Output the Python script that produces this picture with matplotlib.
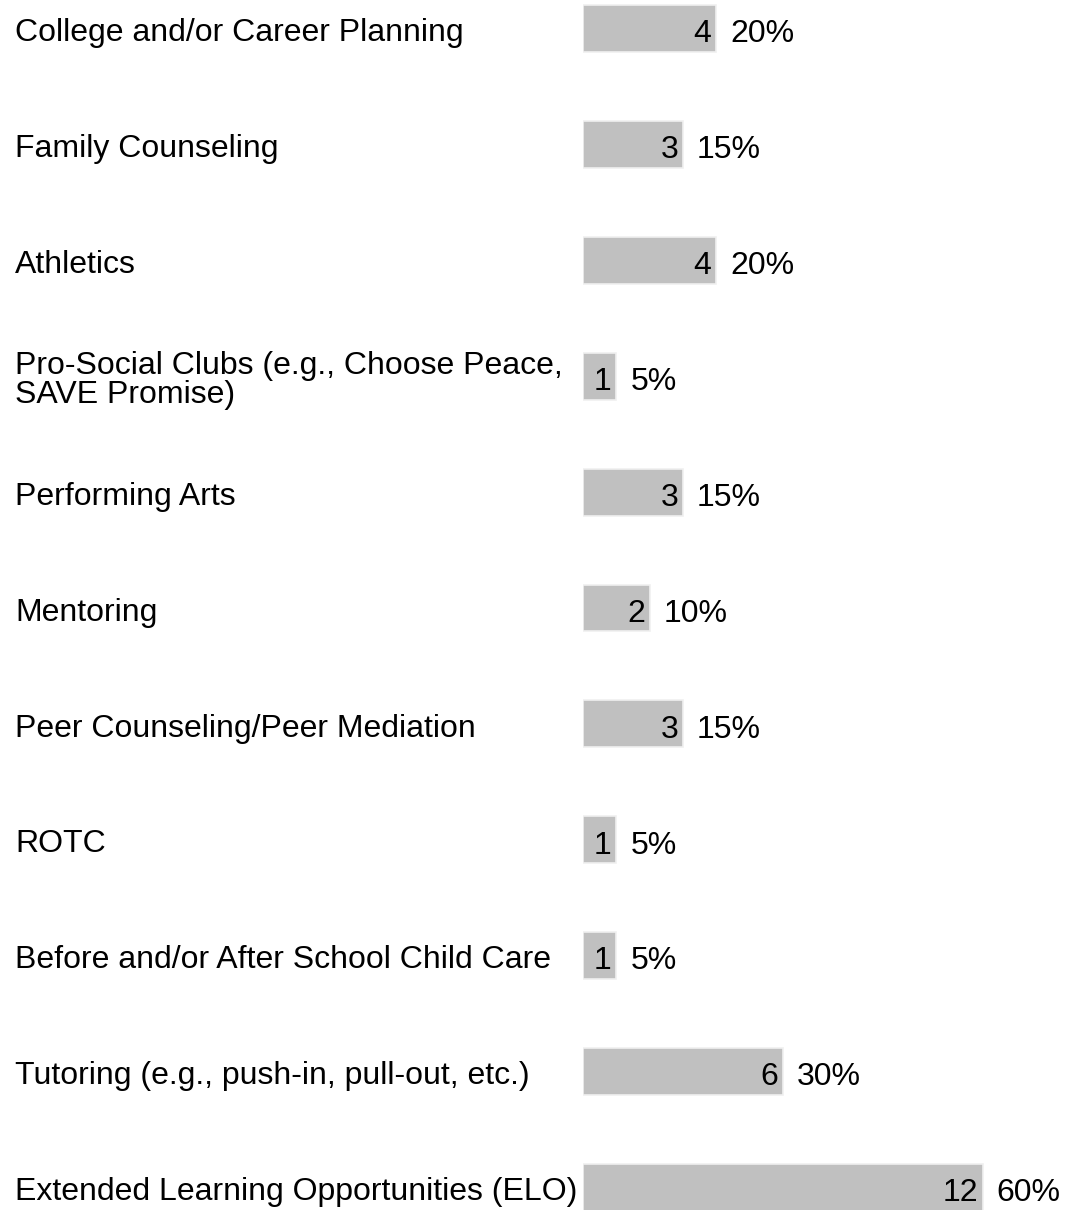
import matplotlib.pyplot as plt
from matplotlib.transforms import blended_transform_factory

# categories and counts
categories = [
    'College and/or Career Planning',
    'Family Counseling',
    'Athletics',
    'Pro-Social Clubs (e.g., Choose Peace,\nSAVE Promise)',
    'Performing Arts',
    'Mentoring',
    'Peer Counseling/Peer Mediation',
    'ROTC',
    'Before and/or After School Child Care',
    'Tutoring (e.g., push-in, pull-out, etc.)',
    'Extended Learning Opportunities (ELO)',
]
counts = [4, 3, 4, 1, 3, 2, 3, 1, 1, 6, 12]
percents = ['20%', '15%', '20%', '5%', '15%', '10%', '15%', '5%', '5%', '30%', '60%']

plt.rcParams['font.family'] = ['Liberation Sans', 'DejaVu Sans']

W, H = 1071, 1210
fig = plt.figure(figsize=(W / 100, H / 100), dpi=100)
left_px = 583
unit_px = 33.3
ax = fig.add_axes([left_px / W, 0, 1 - left_px / W, 1])
ax.set_xlim(0, (W - left_px) / unit_px)
row_px = 115.9
top_px = 28.5
ax.set_ylim((H - top_px) / row_px, -top_px / row_px)
ax.axis('off')

ys = list(range(len(categories)))
ax.barh(ys, counts, height=0.405, color='#c0c0c0', edgecolor='#f0f0f0', linewidth=1.2)

trans = blended_transform_factory(fig.transFigure, ax.transData)
for y, cat, c, p in zip(ys, categories, counts, percents):
    ax.text(15 / W, y + 0.04, cat, transform=trans, ha='left', va='center', fontsize=23,
            linespacing=0.95, color='black', clip_on=False)
    ax.text(c - 0.14, y + 0.05, str(c), ha='right', va='center', fontsize=23, color='black')
    ax.text(c + 0.42, y + 0.05, p, ha='left', va='center', fontsize=23, color='black')

plt.savefig('out.png', dpi=100)
